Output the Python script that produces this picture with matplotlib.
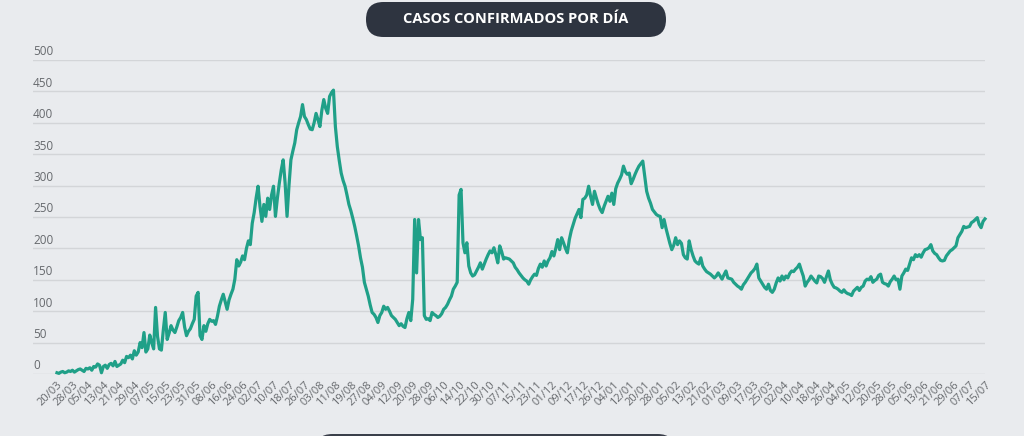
import matplotlib
matplotlib.use("Agg")
import matplotlib.pyplot as plt
from matplotlib.patches import FancyBboxPatch
import matplotlib.transforms as mtransforms
import pandas as pd

titulo = "CASOS CONFIRMADOS POR DÍA"

# dias del 20/03/2020 al 15/07/2021 (sin 25/12 ni 01/01)
fechas = pd.date_range("2020-03-20", "2021-07-15", freq="D")
fechas = fechas[~fechas.isin(pd.to_datetime(["2020-12-25", "2021-01-01"]))]

casos = [
    2, 1, 3, 4, 2, 3, 5, 4,
    6, 3, 5, 7, 8, 6, 4, 9,
    8, 10, 6, 12, 11, 16, 14, 2,
    12, 14, 9, 15, 17, 13, 20, 12,
    14, 16, 22, 18, 28, 26, 30, 24,
    37, 30, 35, 50, 42, 66, 35, 40,
    62, 50, 40, 106, 60, 40, 38, 70,
    98, 55, 65, 77, 70, 66, 75, 85,
    90, 98, 75, 61, 68, 72, 80, 87,
    124, 130, 61, 55, 77, 68, 80, 87,
    84, 85, 79, 92, 108, 118, 127, 115,
    103, 118, 127, 135, 151, 182, 172, 178,
    188, 182, 200, 212, 206, 240, 257, 280,
    299, 267, 243, 270, 251, 280, 262, 285,
    299, 251, 280, 304, 325, 341, 304, 251,
    300, 341, 355, 368, 389, 400, 410, 429,
    410, 405, 397, 390, 389, 400, 415, 405,
    394, 420, 437, 423, 415, 442, 448, 452,
    394, 362, 340, 320, 308, 299, 285, 270,
    260, 248, 235, 220, 204, 185, 170, 146,
    135, 124, 110, 98, 95, 90, 82, 93,
    98, 108, 103, 106, 100, 93, 90, 87,
    82, 77, 80, 76, 74, 88, 98, 85,
    119, 246, 161, 246, 214, 217, 93, 87,
    88, 85, 98, 95, 93, 90, 92, 96,
    103, 106, 111, 118, 124, 135, 140, 146,
    285, 294, 209, 193, 209, 172, 161, 156,
    158, 164, 170, 177, 167, 175, 183, 190,
    196, 193, 201, 190, 177, 204, 195, 183,
    185, 184, 183, 180, 177, 170, 166, 161,
    157, 153, 150, 148, 143, 150, 155, 159,
    157, 168, 175, 170, 180, 172, 180, 185,
    195, 188, 200, 214, 198, 217, 209, 200,
    193, 214, 228, 238, 248, 255, 262, 249,
    278, 280, 285, 299, 283, 270, 291, 280,
    270, 262, 257, 267, 275, 283, 275, 288,
    270, 295, 304, 310, 317, 331, 322, 318,
    320, 303, 310, 318, 325, 331, 335, 339,
    315, 291, 280, 272, 262, 258, 254, 252,
    251, 233, 246, 232, 220, 208, 198, 205,
    217, 206, 212, 208, 190, 185, 183, 212,
    198, 188, 180, 177, 175, 185, 172, 167,
    163, 161, 159, 156, 153, 156, 161, 156,
    151, 158, 164, 153, 152, 151, 146, 143,
    140, 138, 135, 142, 146, 151, 156, 161,
    164, 168, 175, 153, 148, 143, 138, 135,
    143, 133, 130, 135, 145, 153, 148, 156,
    150, 156, 153, 160, 164, 163, 167, 170,
    175, 165, 156, 140, 146, 150, 156, 152,
    148, 145, 156, 155, 152, 146, 155, 164,
    150, 143, 138, 137, 135, 132, 130, 134,
    130, 128, 127, 125, 132, 135, 138, 133,
    138, 140, 148, 151, 150, 155, 146, 149,
    151, 157, 159, 146, 144, 143, 140, 147,
    151, 156, 150, 151, 135, 156, 161, 167,
    165, 175, 185, 182, 190, 187, 190, 186,
    193, 198, 199, 201, 206, 196, 192, 190,
    185, 181, 180, 181, 188, 192, 196, 198,
    201, 204, 217, 222, 227, 235, 233, 234,
    235, 241, 243, 246, 249, 238, 233, 243,
    247,
]

etiquetas = [f.strftime("%d/%m") for f in fechas]
yticks = list(range(0, 501, 50))

fondo = "#e9ebee"
verde = "#20a088"
gris = "#66696d"

plt.rcParams['font.family'] = ['Open Sans', 'DejaVu Sans']

W, H = 1024, 436
fig = plt.figure(figsize=(W / 100, H / 100), dpi=100, facecolor=fondo)
ax = fig.add_axes([33 / W, (H - 374) / H, 952 / W, 314 / H])
ax.set_facecolor(fondo)

x = list(range(len(casos)))
ax.plot(x, casos, color=verde, lw=2.3, solid_joinstyle='round', clip_on=False, zorder=3)

ax.set_xlim(-12.4, len(casos) - 1)
ax.set_ylim(0, 500)
for s in ax.spines.values():
    s.set_visible(False)

ax.set_yticks(yticks)
ax.yaxis.grid(True, color="#d3d5d8", lw=1)
ax.set_axisbelow(True)
ax.tick_params(axis='y', length=0, labelleft=False)
trans = mtransforms.blended_transform_factory(ax.transAxes, ax.transData)
for v in yticks:
    ax.text(0.0, v + 2.5, str(v), transform=trans, ha='left', va='bottom',
            fontsize=8.5, color=gris)

pos = x[::8]
ax.set_xticks(pos)
ax.set_xticklabels([etiquetas[i] for i in pos], rotation=45, ha='right',
                   rotation_mode='anchor', fontsize=8, color=gris)
ax.tick_params(axis='x', length=0, pad=4)

# cajas oscuras
caja = FancyBboxPatch((366 / W, (H - 37) / H), 300 / W, 35 / H,
                      boxstyle="round,pad=0,rounding_size=0.017",
                      transform=fig.transFigure, facecolor="#2e3440",
                      edgecolor="none", mutation_aspect=W / H)
fig.patches.append(caja)
fig.text(516 / W, (H - 19) / H, titulo, ha='center', va='center',
         color='white', fontsize=10.5, fontweight='bold')

caja2 = FancyBboxPatch((315 / W, -30 / H), 360 / W, 32 / H,
                       boxstyle="round,pad=0,rounding_size=0.017",
                       transform=fig.transFigure, facecolor="#3a3f4a",
                       edgecolor="none", mutation_aspect=W / H)
fig.patches.append(caja2)

fig.savefig("out.png", dpi=100, facecolor=fondo)
